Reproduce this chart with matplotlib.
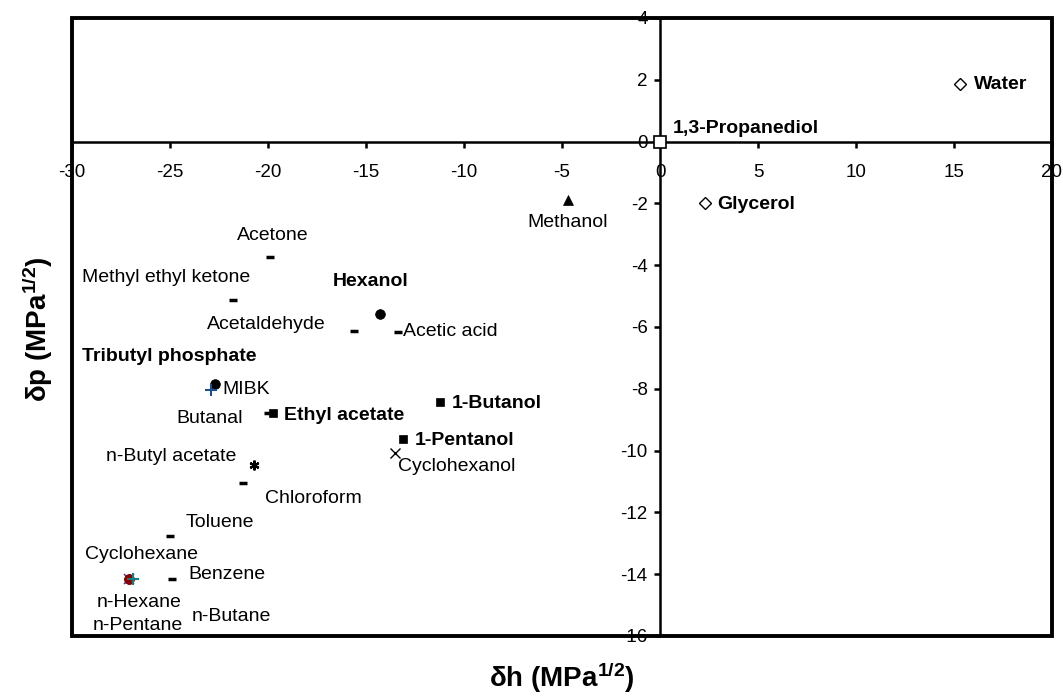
import matplotlib
matplotlib.use('Agg')
import matplotlib.pyplot as plt
from matplotlib.patches import Rectangle


# 溶剂名称
names = ['Water', '1,3-Propanediol', 'Glycerol', 'Methanol', 'Acetone',
         'Methyl ethyl ketone', 'Hexanol', 'Acetaldehyde', 'Acetic acid',
         'Tributyl phosphate', 'MIBK', 'Butanal', 'Ethyl acetate', '1-Butanol',
         '1-Pentanol', 'Cyclohexanol', 'n-Butyl acetate', 'Chloroform',
         'Toluene', 'Benzene', 'Cyclohexane', 'n-Hexane', 'n-Butane', 'n-Pentane']

# δh (MPa^1/2)
dh = [15.3, 0.0, 2.3, -4.7, -19.9,
      -21.8, -14.3, -15.6, -13.35,
      -22.7, -22.9, -20.0, -19.75, -11.2,
      -13.1, -13.5, -20.7, -21.3,
      -25.0, -24.9, -27.1, -27.1, -27.1, -26.9]

# δp (MPa^1/2)
dp = [1.85, 0.0, -2.0, -1.88, -3.75,
      -5.14, -5.58, -6.14, -6.16,
      -7.83, -8.03, -8.78, -8.78, -8.44,
      -9.62, -10.07, -10.47, -11.05,
      -12.77, -14.15, -14.17, -14.17, -14.17, -14.17]

# 粗体标注的溶剂
bold_names = ['Water', '1,3-Propanediol', 'Glycerol', 'Hexanol', 'Tributyl phosphate',
              'Ethyl acetate', '1-Butanol', '1-Pentanol']

x_ticks = list(range(-30, 21, 5))
y_ticks = list(range(-16, 5, 2))


# 标记样式：marker, size, face, edge, mew
def marker_style(name):
    dash = ['Acetone', 'Methyl ethyl ketone', 'Acetaldehyde', 'Acetic acid',
            'Butanal', 'Chloroform', 'Toluene', 'Benzene']
    if name in ('Water', 'Glycerol'):
        return dict(marker='D', ms=6, mfc='white', mec='black', mew=1.0)
    if name == '1,3-Propanediol':
        return dict(marker='s', ms=9, mfc='white', mec='black', mew=1.2)
    if name == 'Methanol':
        return dict(marker='^', ms=7, mfc='black', mec='black', mew=0.5)
    if name in ('Hexanol', 'Tributyl phosphate'):
        return dict(marker='o', ms=7, mfc='black', mec='black', mew=0.5)
    if name == 'MIBK':
        return dict(marker='+', ms=9, mfc='none', mec='#1f4e8c', mew=1.5)
    if name in ('Ethyl acetate', '1-Butanol', '1-Pentanol'):
        return dict(marker='s', ms=6, mfc='black', mec='black', mew=0.5)
    if name == 'Cyclohexanol':
        return dict(marker='x', ms=7, mfc='none', mec='black', mew=1.0)
    if name == 'n-Butyl acetate':
        return dict(marker=(6, 2, 0), ms=7, mfc='none', mec='black', mew=1.6)
    if name in dash:
        return dict(marker='_', ms=5.5, mfc='black', mec='black', mew=2.5)
    if name == 'Cyclohexane':
        return dict(marker='x', ms=7, mfc='none', mec='#6040a0', mew=1.2)
    if name in ('n-Hexane', 'n-Butane'):
        return dict(marker='o', ms=7, mfc='#8b0000', mec='#8b0000', mew=0.5)
    if name == 'n-Pentane':
        return dict(marker='+', ms=8, mfc='none', mec='#108080', mew=1.5)
    return dict(marker='o', ms=6, mfc='black', mec='black', mew=0.5)


# 标签位置 (x, y, ha)
label_pos = {
    'Water': (16.0, 1.84, 'left'),
    '1,3-Propanediol': (0.63, 0.42, 'left'),
    'Glycerol': (2.9, -2.04, 'left'),
    'Methanol': (-4.69, -2.61, 'center'),
    'Acetone': (-19.78, -3.03, 'center'),
    'Methyl ethyl ketone': (-25.19, -4.40, 'center'),
    'Hexanol': (-14.78, -4.52, 'center'),
    'Acetaldehyde': (-20.09, -5.92, 'center'),
    'Acetic acid': (-13.13, -6.15, 'left'),
    'Tributyl phosphate': (-29.49, -6.95, 'left'),
    'MIBK': (-22.35, -8.03, 'left'),
    'Butanal': (-23.0, -8.97, 'center'),
    'Ethyl acetate': (-19.2, -8.87, 'left'),
    '1-Butanol': (-10.6, -8.46, 'left'),
    '1-Pentanol': (-12.5, -9.67, 'left'),
    'Cyclohexanol': (-13.35, -10.53, 'left'),
    'n-Butyl acetate': (-24.95, -10.18, 'center'),
    'Chloroform': (-17.69, -11.55, 'center'),
    'Toluene': (-24.18, -12.34, 'left'),
    'Cyclohexane': (-26.45, -13.37, 'center'),
    'Benzene': (-24.05, -14.01, 'left'),
    'n-Hexane': (-26.57, -14.9, 'center'),
    'n-Pentane': (-26.65, -15.66, 'center'),
    'n-Butane': (-23.9, -15.36, 'left'),
}


def main():
    plt.rcParams['font.family'] = ['Liberation Sans', 'DejaVu Sans']
    plt.rcParams['mathtext.fontset'] = 'custom'
    plt.rcParams['mathtext.rm'] = 'Liberation Sans'
    plt.rcParams['mathtext.bf'] = 'Liberation Sans:bold'
    plt.rcParams['mathtext.default'] = 'bf'

    fig = plt.figure(figsize=(10.63, 6.99), dpi=100)
    ax = fig.add_axes([72 / 1063, 63 / 699, 980 / 1063, 618 / 699])
    ax.set_xlim(-30, 20)
    ax.set_ylim(-16, 4)

    # 坐标轴交于原点
    ax.spines['left'].set_position(('data', 0))
    ax.spines['bottom'].set_position(('data', 0))
    ax.spines['left'].set_linewidth(1.8)
    ax.spines['bottom'].set_linewidth(1.8)
    ax.spines['top'].set_visible(False)
    ax.spines['right'].set_visible(False)
    ax.add_patch(Rectangle((0, 0), 1, 1, transform=ax.transAxes, fill=False,
                           lw=2.8, ec='black', clip_on=False, zorder=5))

    ax.set_xticks(x_ticks)
    ax.set_yticks(y_ticks)
    ax.set_xticklabels([str(v) for v in x_ticks])
    ax.set_yticklabels([str(v) for v in y_ticks])
    ax.tick_params(axis='both', direction='out', length=4, width=1.8,
                   labelsize=13.5, pad=5)
    ax.tick_params(axis='x', pad=12)

    # 散点
    for n, x, y in zip(names, dh, dp):
        ax.plot([x], [y], linestyle='none', clip_on=False, zorder=6,
                **marker_style(n))

    # 标签
    for n in names:
        lx, ly, ha = label_pos[n]
        ax.text(lx, ly, n, ha=ha, va='center', fontsize=14,
                fontweight='bold' if n in bold_names else 'normal', zorder=7)

    fig.text(562 / 1063, 1 - 678 / 699, 'δh (MPa$^{1/2}$)', ha='center', va='center',
             fontsize=20, fontweight='bold')
    fig.text(38 / 1063, 1 - 329 / 699, 'δp (MPa$^{1/2}$)', ha='center', va='center',
             fontsize=20, fontweight='bold', rotation=90)

    fig.savefig('out.png', dpi=100)


if __name__ == "__main__":
    main()
